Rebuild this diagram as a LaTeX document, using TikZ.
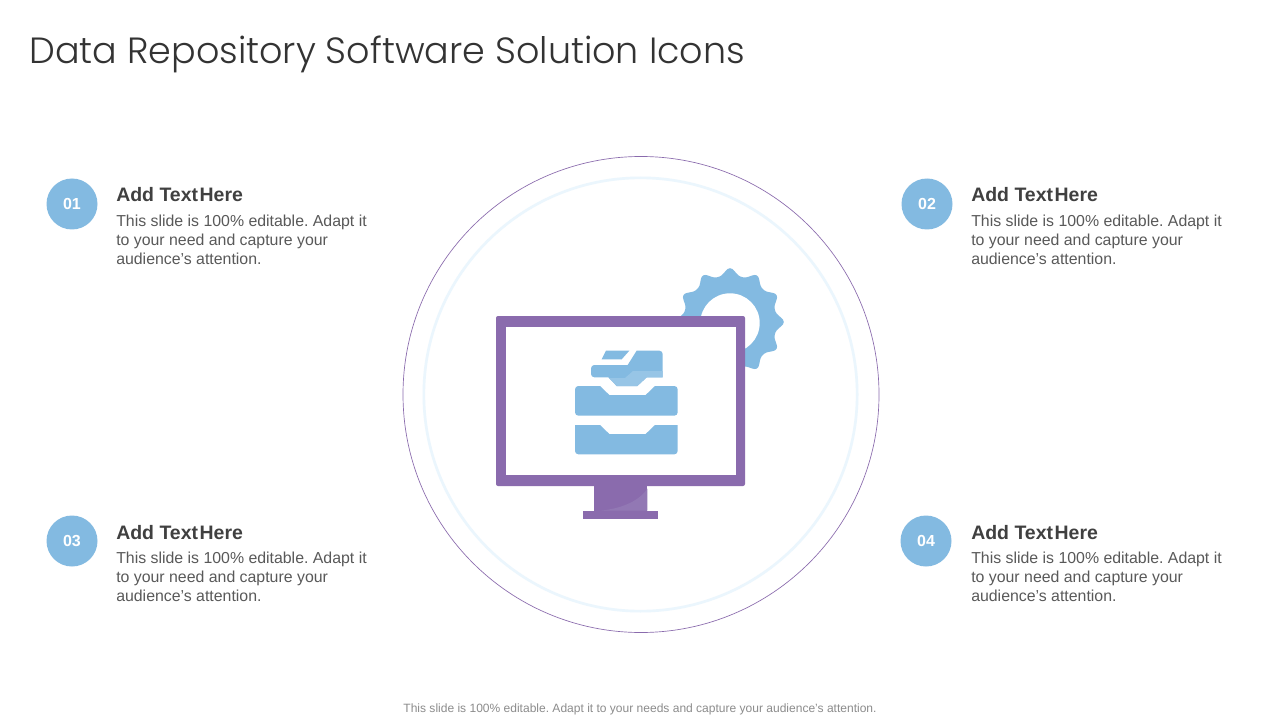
\documentclass[tikz,border=0pt]{standalone}
\usepackage{fontspec}
\setmainfont{Liberation Sans}
\newfontfamily\titlefont{Poppins Light}
\frenchspacing
\definecolor{accentblue}{HTML}{83BAE1}
\definecolor{lightblue}{HTML}{97C5E6}
\definecolor{monitorpurple}{HTML}{8A6BAD}
\definecolor{lightpurple}{HTML}{9278B4}
\definecolor{ringblue}{HTML}{EBF6FD}
\definecolor{titlegray}{HTML}{333333}
\definecolor{headgray}{HTML}{404040}
\definecolor{bodygray}{HTML}{595959}
\definecolor{footgray}{HTML}{8C8C8C}
\tikzset{
  numdot/.style={circle,fill=accentblue,minimum size=38.25pt,inner sep=0pt,text=white,font=\fontsize{12}{14}\selectfont\bfseries},
  headtext/.style={anchor=base west,inner sep=0pt,text=headgray,font=\fontsize{14.6}{17}\selectfont\bfseries},
  bodytext/.style={anchor=north west,inner sep=0pt,align=left,text=bodygray,font=\fontsize{11.9}{14.25}\selectfont},
  iconblue/.style={fill=accentblue,draw=none},
}
\newcommand{\bodylines}{This slide is 100\% editable. Adapt it\\to your need and capture your\\audience’s attention.}
\newcommand{\headline}{Add Text\hspace{0.08em}Here}
\begin{document}
\begin{tikzpicture}[x=0.75pt,y=-0.75pt,declare function={gc(\a)=0.5+0.5*cos(12*\a);}]
\useasboundingbox (0,0) rectangle (1280,720);
\fill[white] (0,0) rectangle (1280,720);
% title
\node[anchor=base west,inner sep=0pt,text=titlegray,font=\titlefont\fontsize{27.37}{32}\selectfont] (title) at (29,64) {Data Repository Software Solution Icons};
% rings
\node[circle,draw=monitorpurple,line width=0.5pt,minimum size=357pt,inner sep=0pt] (outerring) at (641,394.5) {};
\node[circle,draw=ringblue,line width=2pt,minimum size=325pt,inner sep=0pt] (innerring) at (640.5,394.5) {};
% gear
\fill[accentblue] plot[smooth cycle,samples=144,domain=0:357.5] ([shift={(730,322)}]\x:{46.5+7.3*gc(\x)*(0.4+0.6*gc(\x))});
\fill[white] (730,323) circle (29.7);
% monitor
\begin{scope}[shift={(480,250)},x=0.25pt,y=-0.25pt]
  \fill[monitorpurple] (343,700) rectangle (502,790);
  \fill[lightpurple] (362,782) .. controls (430,775) and (480,750) .. (502,716) -- (502,782) -- cycle;
  \fill[monitorpurple] (310,782) rectangle (535,808);
  \fill[monitorpurple,rounded corners=1.5pt] (48,198) rectangle (795,708);
  \fill[white] (77,231) rectangle (768,675);
  % bottom tray
  \fill[iconblue] (285,525) -- (360,525) -- (388,552) -- (497,552) -- (525,525) -- (593,525) -- (593,603) arc[start angle=0,end angle=90,radius=10] -- (295,613) arc[start angle=90,end angle=180,radius=10] -- cycle;
  % middle tray
  \fill[iconblue] (295,408) -- (360,408) -- (388,435) -- (497,435) -- (525,408) -- (583,408) arc[start angle=-90,end angle=0,radius=10] -- (593,487) arc[start angle=0,end angle=90,radius=10] -- (295,497) arc[start angle=90,end angle=180,radius=10] -- (285,418) arc[start angle=180,end angle=270,radius=10] -- cycle;
  % top tray
  \fill[iconblue] (343,345) -- (443,345) -- (470,302) -- (538,302) arc[start angle=-90,end angle=0,radius=10] -- (548,382) -- (500,382) -- (472,408) -- (410,408) -- (385,382) -- (343,382) arc[start angle=90,end angle=180,radius=10] -- (333,355) arc[start angle=180,end angle=270,radius=10] -- cycle;
  \fill[lightblue] (388,384) -- (435,384) -- (459,363) -- (548,363) -- (548,382) -- (500,382) -- (472,408) -- (410,408) -- cycle;
  \fill[iconblue] (378,302) -- (448,302) -- (425,328) -- (365,328) -- cycle;
\end{scope}
% items
\node[numdot] (n1) at (72,204) {01};
\node[headtext] (h1) at (116,201.2) {\headline};
\node[bodytext] (b1) at (116,214.7) {\bodylines};
\node[numdot] (n2) at (927,204) {02};
\node[headtext] (h2) at (971,201.2) {\headline};
\node[bodytext] (b2) at (971,214.7) {\bodylines};
\node[numdot] (n3) at (72,541) {03};
\node[headtext] (h3) at (116,539.2) {\headline};
\node[bodytext] (b3) at (116,551.7) {\bodylines};
\node[numdot] (n4) at (926,541) {04};
\node[headtext] (h4) at (971,539.2) {\headline};
\node[bodytext] (b4) at (971,551.7) {\bodylines};
% footer
\node[inner sep=0pt,text=footgray,font=\fontsize{9.02}{11}\selectfont] (foot) at (640,709.3) {This slide is 100\% editable. Adapt it to your needs and capture your audience's attention.};
\end{tikzpicture}
\end{document}
